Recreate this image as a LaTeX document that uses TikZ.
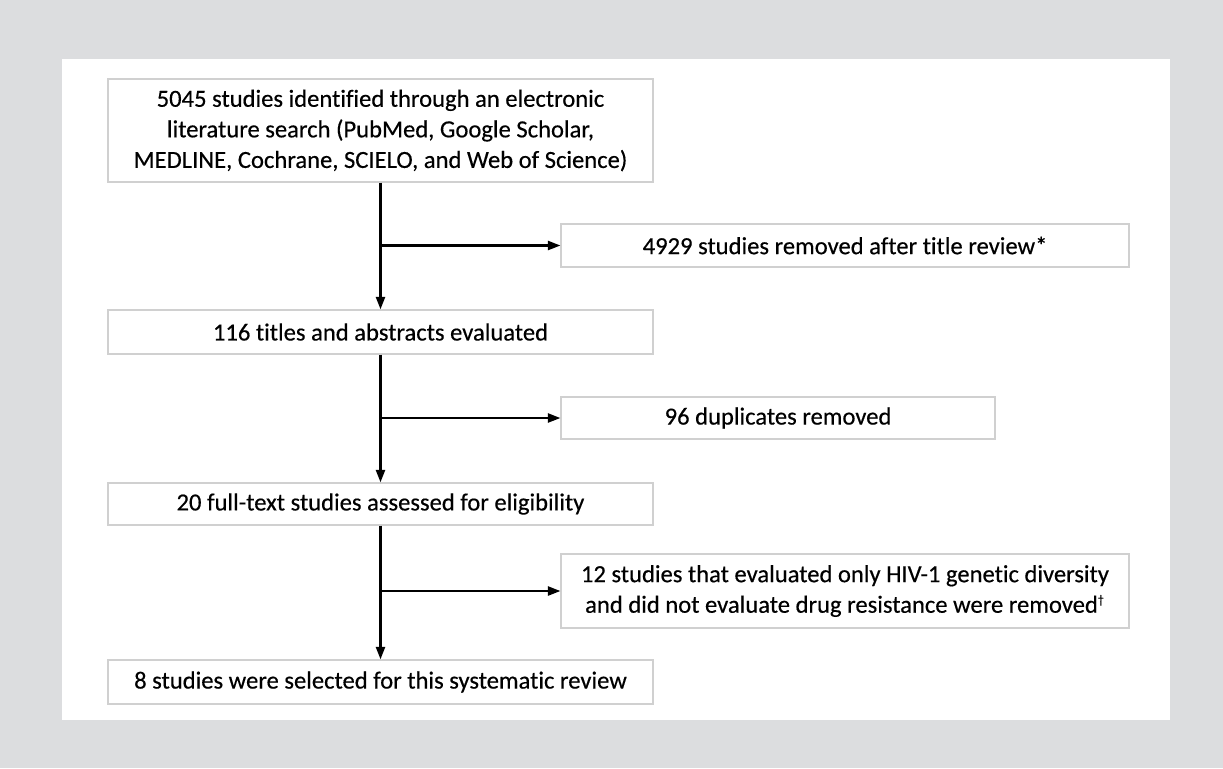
\documentclass[tikz,border=0pt]{standalone}
\usepackage{fontspec}
\setmainfont[Ligatures={NoCommon}, FakeBold=0.4]{Carlito}
\usetikzlibrary{arrows.meta, positioning, calc}
\definecolor{bggray}{RGB}{220,221,223}
\definecolor{boxline}{RGB}{208,208,208}

\begin{document}
\begin{tikzpicture}[x=0.02cm, y=-0.02cm, >={Triangle[length=2.5mm, width=1.8mm]},
		font=\fontsize{14}{17.4}\selectfont,
		mainbox/.style={draw=boxline, line width=0.7pt, fill=white, align=center, inner sep=2pt, minimum width=10.9cm},
		sidebox/.style={draw=boxline, line width=0.7pt, fill=white, align=center, inner sep=2pt},
		conn/.style={->, line width=1.3pt}]
		
		% ---------------------------------------------------------
		% Background panel
		% ---------------------------------------------------------
		\fill[bggray] (0,0) rectangle (1223,768);
		\fill[white] (62,59) rectangle (1170,720);
		
		% ---------------------------------------------------------
		% Main column
		% ---------------------------------------------------------
		\node[mainbox, minimum height=2.06cm] (ident) at (380.5,130.5)
			{5045 studies identified through an electronic\\literature search (PubMed, Google Scholar,\\MEDLINE, Cochrane, SCIELO, and Web of Science)};
		\node[mainbox, minimum height=0.88cm] (titles) at (380.5,332) {116 titles and abstracts evaluated};
		\node[mainbox, minimum height=0.84cm] (fulltext) at (380.5,504) {20 full-text studies assessed for eligibility};
		\node[mainbox, minimum height=0.88cm] (selected) at (380.5,682) {8 studies were selected for this systematic review};
		
		% ---------------------------------------------------------
		% Exclusions (right column)
		% ---------------------------------------------------------
		\node[sidebox, minimum width=11.36cm, minimum height=0.86cm] (titlerev) at (845,245.5) {4929 studies removed after title review*};
		\node[sidebox, minimum width=8.68cm, minimum height=0.84cm] (dupl) at (778,418) {96 duplicates removed};
		\node[sidebox, minimum width=11.36cm, minimum height=1.48cm] (hivonly) at (845,591)
			{12 studies that evaluated only HIV-1 genetic diversity\\and did not evaluate drug resistance were removed\textsuperscript{\scriptsize †}};
		
		% Branch points on the main line
		\coordinate (br1) at (ident.south |- titlerev.west);
		\coordinate (br2) at (ident.south |- dupl.west);
		\coordinate (br3) at (ident.south |- hivonly.west);
		
		% Arrows
		\draw[conn] (ident.south) -- (titles.north);
		\draw[conn] (titles.south) -- (fulltext.north);
		\draw[conn] (fulltext.south) -- (selected.north);
		\draw[conn] (br1) -- (titlerev.west);
		\draw[conn] (br2) -- (dupl.west);
		\draw[conn] (br3) -- (hivonly.west);
		
	\end{tikzpicture}
\end{document}
